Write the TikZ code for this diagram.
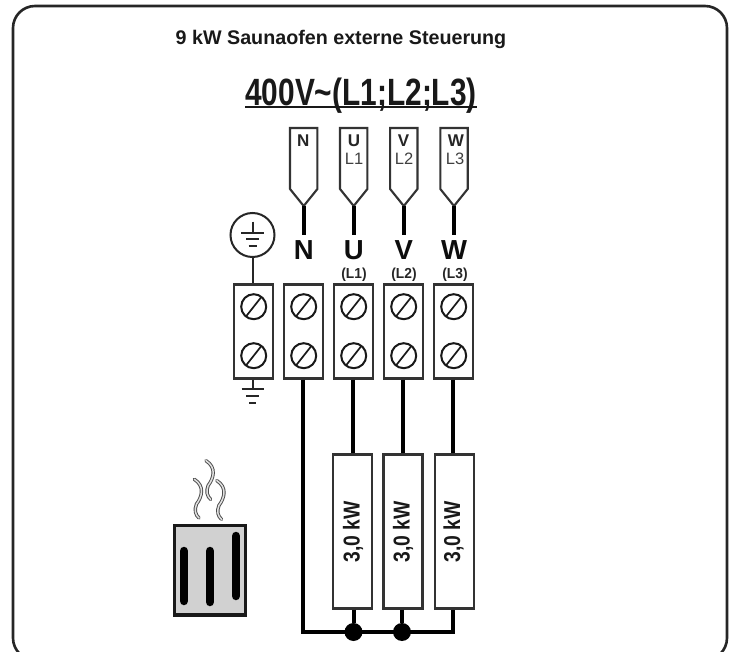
\documentclass[tikz,border=0pt]{standalone}
\usepackage{fontspec}
\setmainfont{Liberation Sans}
\begin{document}
\begin{tikzpicture}[x=1pt,y=-1pt,
  frameline/.style={draw=black!85,line width=2.6pt,rounded corners=22pt},
  terminal/.style={draw=black!80,line width=2.3pt,minimum width=39pt,minimum height=94pt,inner sep=0pt},
  screw/.style={circle,draw=black!90,line width=2pt,minimum size=25pt,inner sep=0pt,path picture={\draw[line width=1.7pt,black!90] (path picture bounding box.center) ++(-7.5,9.5) -- ++(15,-19);}},
  plug/.style={draw=black!80,line width=2.1pt,line join=miter,fill=white},
  heaterbox/.style={draw=black!80,line width=2.2pt,minimum width=39pt,minimum height=154pt,inner sep=0pt},
  thick wire/.style={line width=4pt,line cap=butt,draw=black},
  thin wire/.style={line width=2pt,draw=black!85},
  dotnode/.style={circle,fill=black,minimum size=18pt,inner sep=0pt},
  bigletter/.style={font=\fontsize{27.5}{28}\selectfont\bfseries,inner sep=0pt,anchor=base,text=black!95},
  phase/.style={font=\fontsize{14.5}{15}\selectfont\bfseries,inner sep=0pt,text=black!85,xscale=0.95},
  plugtop/.style={font=\fontsize{17}{17}\selectfont\bfseries,inner sep=0pt,text=black!85},
  plugsub/.style={font=\fontsize{16.5}{17}\selectfont,inner sep=0pt,text=black!75},
  kw/.style={font=\fontsize{23}{23}\selectfont\bfseries,inner sep=0pt,rotate=90,xscale=0.84,text=black!90},
  steam/.style={draw=black!70,line width=3.4pt,line cap=round},
  steamin/.style={draw=black!12,line width=1.5pt,line cap=round},
  bar/.style={line width=8.5pt,line cap=round,draw=black},
]
\useasboundingbox (0,0) rectangle (729,652);
\fill[white] (0,0) rectangle (729,652);
\begin{scope}
  \clip (0,0) rectangle (729,652);
  \draw[frameline] (13,6) rectangle (727,660);
\end{scope}

\node[font=\fontsize{19.7}{20}\selectfont\bfseries,inner sep=0pt,text=black!90,anchor=base] (title) at (341,45) {9 kW Saunaofen externe Steuerung};
\node[font=\fontsize{38}{38}\selectfont\bfseries,inner sep=0pt,xscale=0.786,text=black!90,anchor=base] (voltage) at (361,106) {400V\textasciitilde(L1;L2;L3)};
\coordinate (ula) at (245,107); \coordinate (ulb) at (477,107);
\draw[line width=2.4pt,black!90] (ula) -- (ulb);

% plugs, wires, letters, terminals
\foreach \nm/\x/\lab in {N/303.7/N,U/353.7/U,V/403.8/V,W/454/W}{
  \coordinate (tip\nm) at (\x,206);
  \draw[plug] (\x-13.7,128) -- (\x+13.7,128) -- (\x+13.7,189) -- (tip\nm) -- (\x-13.7,189) -- cycle;
  \node[bigletter] (let\nm) at (\x,260) {\lab};
  \draw[thick wire] (tip\nm) -- ([yshift=6pt]let\nm.north);
}
\node[plugtop] (pn) at (303.3,140.7) {N};
\node[plugtop] (pu) at (354,140.7) {U};
\node[plugtop] (pv) at (403.5,140.7) {V};
\node[plugtop] (pw) at (456,140.7) {W};
\node[plugsub] (su) at (354,159) {L1};
\node[plugsub] (sv) at (404,159) {L2};
\node[plugsub] (sw) at (455,159) {L3};
\node[phase] (ql1) at (354,275) {(L1)};
\node[phase] (ql2) at (404,275) {(L2)};
\node[phase] (ql3) at (455,275) {(L3)};

\foreach \nm/\x in {E/253.7,N/303.7,U/353.7,V/403.7,W/453.7}{
  \node[terminal] (t\nm) at (\x,331.5) {};
  \node[screw] (a\nm) at (\x,306.7) {};
  \node[screw] (b\nm) at (\x,355.7) {};
}

% earth
\node[circle,draw=black!85,line width=2pt,minimum size=44pt,inner sep=0pt] (earth) at (252.5,235) {};
\coordinate (e1) at (252.5,233);
\draw[thin wire] (252.5,221.7) coordinate (e0) -- (e1);
\draw[thin wire] (e1) ++(-11.5,0) -- ++(23,0);
\draw[thin wire] (e1) ++(-6.5,6.5) -- ++(13,0);
\draw[thin wire] (e1) ++(-4,13.5) -- ++(8,0);
\draw[thin wire] (earth.south) -- (earth.south |- tE.north);
\coordinate (g0) at (252.5,389);
\draw[thin wire] (g0 |- tE.south) -- (g0);
\draw[thin wire] (g0) ++(-11,0) -- ++(22,0);
\draw[thin wire] (g0) ++(-6.5,7.5) -- ++(13,0);
\draw[thin wire] (g0) ++(-3.5,14) -- ++(7,0);

% heaters
\node[heaterbox] (h1) at (352.7,531.5) {};
\node[heaterbox] (h2) at (403,531.5) {};
\node[heaterbox] (h3) at (454.2,531.5) {};
\node[kw] (k1) at (353,532) {3,0 kW};
\node[kw] (k2) at (403,532) {3,0 kW};
\node[kw] (k3) at (453.5,532) {3,0 kW};

\node[dotnode] (d1) at (353.5,632) {};
\node[dotnode] (d2) at (402,632) {};
\coordinate (cn) at (303.3,632);
\coordinate (cw) at (452.7,632);

\draw[thick wire] (tU.south -| 352.7,0) -- (h1.north -| 352.7,0);
\draw[thick wire] (tV.south -| 403,0) -- (h2.north -| 403,0);
\draw[thick wire] (tW.south -| 452.7,0) -- (h3.north -| 452.7,0);
\draw[thick wire] (h1.south -| d1) -- (d1);
\draw[thick wire] (h2.south -| d2) -- (d2);
\draw[thick wire,line join=miter] (tN.south -| cn) -- (cn) -- (cw) -- (cw |- h3.south);

% sauna stove
\node[draw=black!90,fill=black!18,line width=3.3pt,minimum width=71.4pt,minimum height=89.3pt,inner sep=0pt] (stove) at (210,570.3) {};
\draw[bar] (184,551) -- (184,601);
\draw[bar] (210,551) -- (210,602);
\draw[bar] (236,536) -- (236,596);
\foreach \dx/\dy in {0/0,11.7/-18.6,22.5/1.3}{
  \draw[steam] (194.3+\dx,479.3+\dy) .. controls (205+\dx,486+\dy) and (202+\dx,497+\dy) .. (196.5+\dx,504+\dy) .. controls (194+\dx,510+\dy) and (195.5+\dx,515+\dy) .. (199+\dx,518+\dy);
  \draw[steamin] (194.3+\dx,479.3+\dy) .. controls (205+\dx,486+\dy) and (202+\dx,497+\dy) .. (196.5+\dx,504+\dy) .. controls (194+\dx,510+\dy) and (195.5+\dx,515+\dy) .. (199+\dx,518+\dy);
}
\end{tikzpicture}
\end{document}
